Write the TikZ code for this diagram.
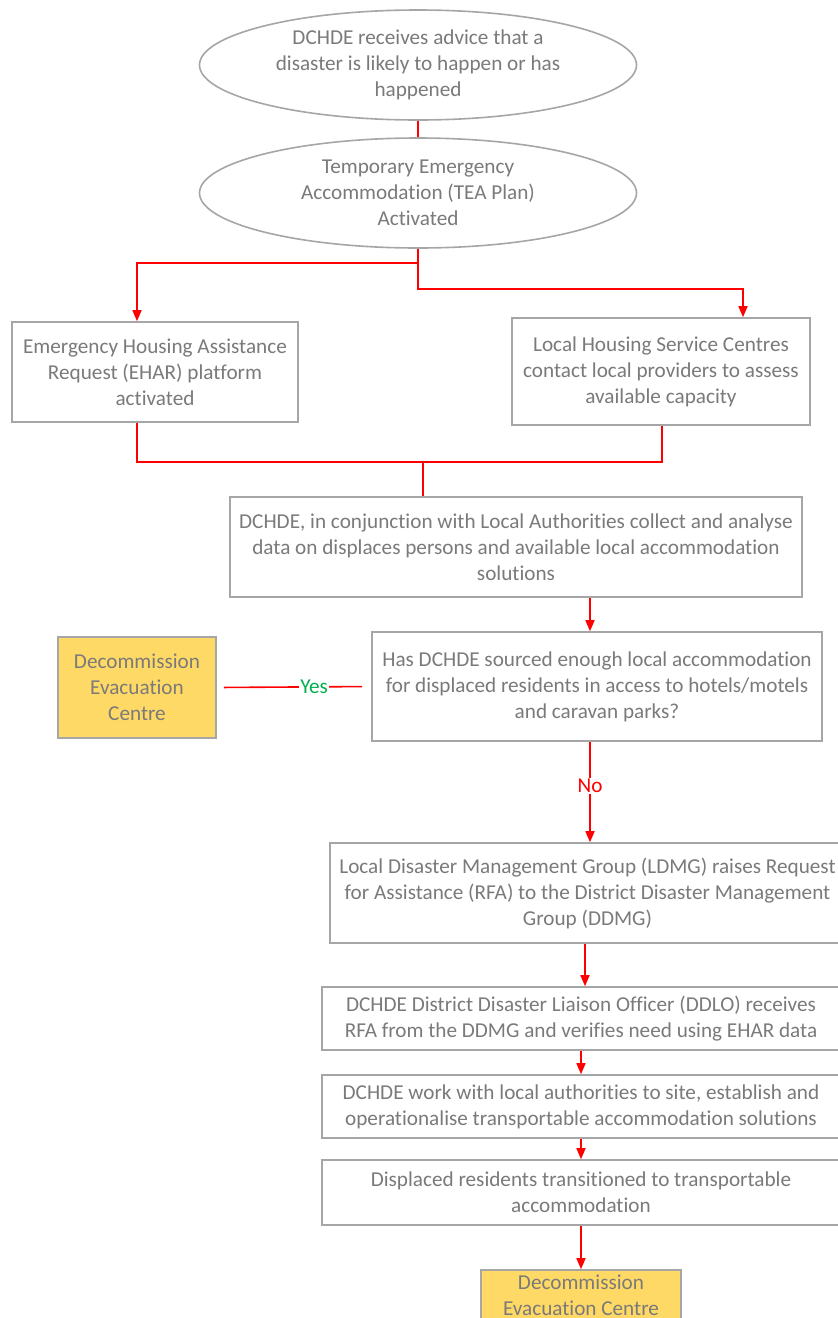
\documentclass[tikz,border=0pt]{standalone}
\usepackage{fontspec}
\setmainfont[Ligatures=NoCommon]{Carlito}
\usetikzlibrary{shapes.geometric,arrows.meta}
\definecolor{txtgray}{HTML}{7A7A7A}
\definecolor{linegray}{HTML}{A6A6A6}
\definecolor{flowred}{HTML}{FF0000}
\definecolor{yesgreen}{HTML}{00B050}
\definecolor{decyellow}{HTML}{FFD966}
\begin{document}
\begin{tikzpicture}[x=1pt, y=-1pt,
	every node/.style={font=\fontsize{21.2}{26}\selectfont, text=txtgray, align=center, inner sep=0pt},
	oval/.style={ellipse, draw=linegray, line width=1.6pt, fill=white, minimum width=437pt, minimum height=110pt},
	stepbox/.style={rectangle, draw=linegray, line width=1.6pt, fill=white},
	endbox/.style={stepbox, fill=decyellow},
	flow/.style={draw=flowred, line width=1.6pt},
	arr/.style={flow, -{Triangle[width=9pt,length=11pt]}}]
			\clip (0,0) rectangle (838,1318);
			\fill[white] (0,0) rectangle (838,1318);

			\node[oval] (advice) at (418,65) {DCHDE receives advice that a\\disaster is likely to happen or has\\happened};
			\node[oval] (tea) at (418,193) {Temporary Emergency\\Accommodation (TEA Plan)\\Activated};
			\node[stepbox, minimum width=286pt, minimum height=100pt] (ehar) at (155,372) {Emergency Housing Assistance\\Request (EHAR) platform\\activated};
			\node[stepbox, minimum width=298pt, minimum height=107pt] (lhsc) at (661,371.5) {Local Housing Service Centres\\contact local providers to assess\\available capacity};
			\node[stepbox, minimum width=572pt, minimum height=100pt] (collect) at (516,547) {DCHDE, in conjunction with Local Authorities collect and analyse\\data on displaces persons and available local accommodation\\solutions};
			\node[stepbox, minimum width=450pt, minimum height=109pt] (enough) at (597,686.5) {Has DCHDE sourced enough local accommodation\\for displaced residents in access to hotels/motels\\and caravan parks?};
			\node[endbox, minimum width=158pt, minimum height=101pt] (decomA) at (137,687.5) {Decommission\\Evacuation\\Centre};
			\node[stepbox, minimum width=515pt, minimum height=100pt] (ldmg) at (587.5,893) {Local Disaster Management Group (LDMG) raises Request\\for Assistance (RFA) to the District Disaster Management\\Group (DDMG)};
			\node[stepbox, minimum width=518pt, minimum height=63pt] (ddlo) at (581,1018.5) {DCHDE District Disaster Liaison Officer (DDLO) receives\\RFA from the DDMG and verifies need using EHAR data};
			\node[stepbox, minimum width=518pt, minimum height=63pt] (site) at (581,1106.5) {DCHDE work with local authorities to site, establish and\\operationalise transportable accommodation solutions};
			\node[stepbox, minimum width=518pt, minimum height=65pt] (moved) at (581,1192.5) {Displaced residents transitioned to transportable\\accommodation};
			\node[endbox, minimum width=200pt, minimum height=50pt, text depth=0pt] (decomB) at (581,1295) {Decommission\\Evacuation Centre};

			\coordinate (split) at (418,263);
			\coordinate (splitR) at (418,289);
			\coordinate (joinL) at (137,462);
			\coordinate (joinR) at (662,462);
			\coordinate (join) at (423,462);

			\draw[flow] (advice) -- (tea);
			\draw[arr] (tea.south) -- (split) -| ([xshift=-18pt]ehar.north);
			\draw[arr] (split) -- (splitR) -| ([xshift=82pt]lhsc.north);
			\draw[flow] ([xshift=-18pt]ehar.south) -- (joinL) -- (joinR) -- ([xshift=1pt]lhsc.south);
			\draw[flow] (join) -- (join |- collect.north);
			\draw[arr] ([xshift=74pt]collect.south) -- ([xshift=74pt]collect.south |- enough.north);
			\draw[flow, shorten <=9pt, shorten >=7pt] (enough.west) -- node[pos=0.37, fill=white, inner sep=1pt, text=yesgreen] {Yes} (decomA.east);
			\draw[arr] ([xshift=-7pt]enough.south) -- node[pos=0.44, fill=white, inner sep=1pt, text=flowred] {No} ([xshift=-7pt]enough.south |- ldmg.north);
			\draw[arr] ([xshift=-2.5pt]ldmg.south) -- ([xshift=-2.5pt]ldmg.south |- ddlo.north);
			\draw[arr] (ddlo) -- (site);
			\draw[arr] (site) -- (moved);
			\draw[arr] (moved) -- (decomB);
		\end{tikzpicture}
\end{document}
